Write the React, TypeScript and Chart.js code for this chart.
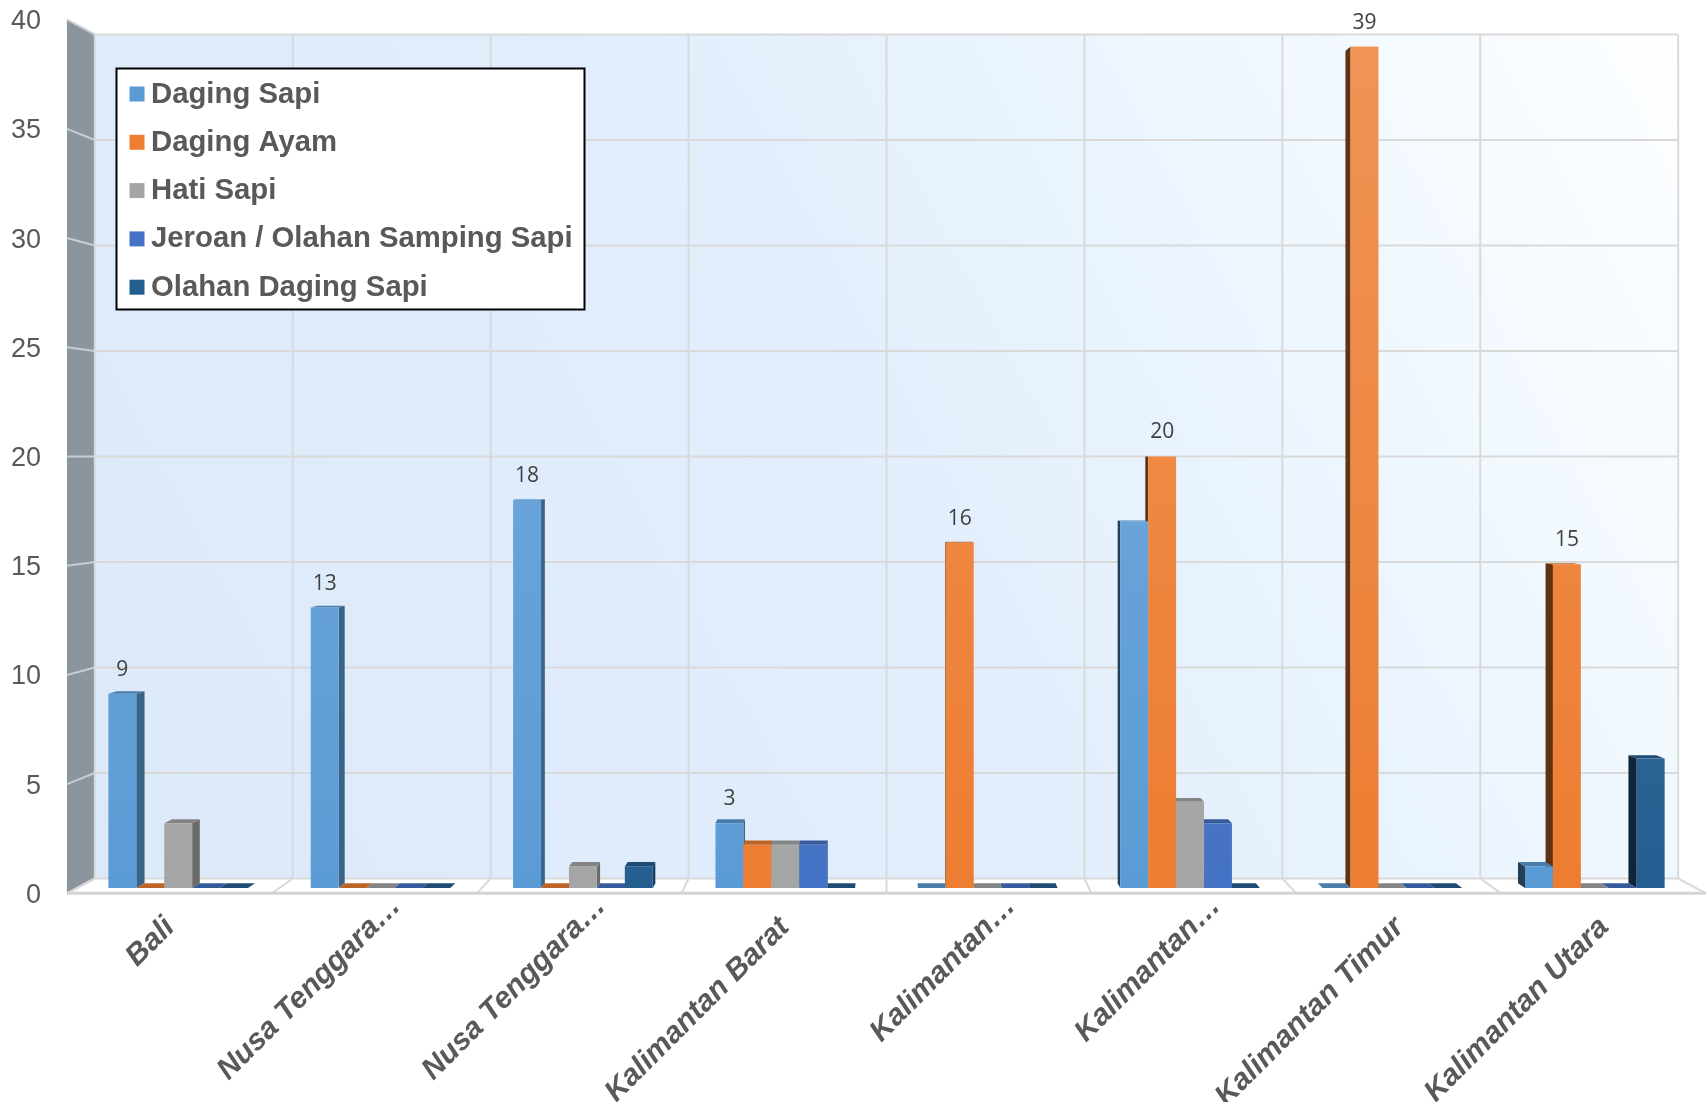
import React, { useEffect, useRef } from 'react';
import { Chart, registerables } from 'chart.js';

Chart.register(...registerables);

const categories = [
  'Bali',
  'Nusa Tenggara…',
  'Nusa Tenggara…',
  'Kalimantan Barat',
  'Kalimantan…',
  'Kalimantan…',
  'Kalimantan Timur',
  'Kalimantan Utara',
];
const dagingSapi = [9, 13, 18, 3, 0, 17, 0, 1];
const dagingAyam = [0, 0, 0, 2, 16, 20, 39, 15];
const hatiSapi = [3, 0, 1, 2, 0, 4, 0, 0];
const jeroanSapi = [0, 0, 0, 2, 0, 3, 0, 0];
const olahanSapi = [0, 0, 1, 0, 0, 0, 0, 6];
const seriesNames = ['Daging Sapi', 'Daging Ayam', 'Hati Sapi', 'Jeroan / Olahan Samping Sapi', 'Olahan Daging Sapi'];
const seriesColors = ['#5B9BD5', '#ED7D31', '#A5A5A5', '#4472C4', '#255E91'];
const yMin = 0;
const yMax = 40;
const yStep = 5;

function shade(hex: string, f: number): string {
  const n = parseInt(hex.slice(1), 16);
  const r = Math.max(0, Math.min(255, Math.round(((n >> 16) & 255) * f)));
  const g = Math.max(0, Math.min(255, Math.round(((n >> 8) & 255) * f)));
  const b = Math.max(0, Math.min(255, Math.round((n & 255) * f)));
  return `rgb(${r},${g},${b})`;
}
function lighten(hex: string, t: number): string {
  const n = parseInt(hex.slice(1), 16);
  const c = [(n >> 16) & 255, (n >> 8) & 255, n & 255].map((v) => Math.round(v + (255 - v) * t));
  return `rgb(${c[0]},${c[1]},${c[2]})`;
}

const KW = 0.978; // back wall depth factor
const KF = 1.0124; // floor front depth factor
const KB = 0.989; // bar back face depth factor

function projector(chart: any) {
  const ca = chart.chartArea;
  const cx = (ca.left + ca.right) / 2;
  const cy = (ca.top + ca.bottom) / 2;
  return { cx, cy, P: (x: number, y: number, k: number) => [cx + (x - cx) * k, cy + (y - cy) * k] };
}

const threeD = {
  id: 'threeD',
  beforeDatasetsDraw(chart: any) {
    const ctx: CanvasRenderingContext2D = chart.ctx;
    const ca = chart.chartArea;
    const xs = chart.scales.x;
    const ys = chart.scales.y;
    const { cx, cy, P } = projector(chart);
    const poly = (pts: number[][], fill?: any) => {
      ctx.beginPath();
      ctx.moveTo(pts[0][0], pts[0][1]);
      for (let i = 1; i < pts.length; i++) ctx.lineTo(pts[i][0], pts[i][1]);
      ctx.closePath();
      ctx.fillStyle = fill;
      ctx.fill();
    };
    const line = (a: number[], b: number[], color: string, lw: number) => {
      ctx.beginPath();
      ctx.moveTo(a[0], a[1]);
      ctx.lineTo(b[0], b[1]);
      ctx.strokeStyle = color;
      ctx.lineWidth = lw;
      ctx.stroke();
    };
    const L = ca.left, R = ca.right;
    const T = ys.getPixelForValue(yMax);
    const B = ys.getPixelForValue(yMin);
    ctx.save();
    // back wall
    const bl = P(L, B, KW), br = P(R, B, KW), tl = P(L, T, KW), tr = P(R, T, KW);
    const grad = ctx.createLinearGradient(bl[0], bl[1], tr[0], tr[1]);
    grad.addColorStop(0, '#dce9f9');
    grad.addColorStop(0.5, '#e2eefc');
    grad.addColorStop(0.75, '#eef7fe');
    grad.addColorStop(1, '#fdfeff');
    poly([tl, tr, br, bl], grad);
    // left wall
    const ftl = P(L, T, KF), fbl = P(L, B, KF);
    poly([ftl, tl, bl, fbl], '#8c959e');
    // floor
    const fbr = P(R, B, KF);
    poly([bl, br, fbr, fbl], '#ffffff');
    // grid: horizontal lines
    for (let v = yMin; v <= yMax; v += yStep) {
      const py = ys.getPixelForValue(v);
      line(P(L, py, KW), P(R, py, KW), '#d9d9d9', 2);
      line(P(L, py, KF), P(L, py, KW), '#c8cdd2', 2);
    }
    // vertical category boundaries
    const half = (xs.getPixelForValue(1) - xs.getPixelForValue(0)) / 2;
    for (let i = 0; i <= categories.length; i++) {
      const px = xs.getPixelForValue(0) - half + i * half * 2;
      line(P(px, T, KW), P(px, B, KW), '#d9d9d9', 2);
      line(P(px, B, KW), P(px, B, KF), '#d9d9d9', 2);
    }
    line(fbl, fbr, '#d4d4d4', 3);

    // bars (painter's order: outermost first)
    const bars: any[] = [];
    chart.data.datasets.forEach((ds: any, di: number) => {
      const meta = chart.getDatasetMeta(di);
      meta.data.forEach((el: any) => {
        bars.push({ el, color: seriesColors[di] });
      });
    });
    bars.sort((a, b) => Math.abs(b.el.x - cx) - Math.abs(a.el.x - cx));
    for (const bar of bars) {
      const { x, y, base, width } = bar.el;
      const l = x - width / 2, r = x + width / 2;
      const top = Math.min(y, base), bot = Math.max(y, base);
      const c = bar.color;
      if (r < cx) {
        poly([[r, top], [r, bot], P(r, bot, KB), P(r, top, KB)], shade(c, 0.64));
      } else if (l > cx) {
        poly([[l, top], [l, bot], P(l, bot, KB), P(l, top, KB)], shade(c, 0.4));
      }
      if (top > cy) {
        poly([[l, top], [r, top], P(r, top, KB), P(l, top, KB)], shade(c, 0.8));
      }
      if (bot - top > 0.5) {
        const g = ctx.createLinearGradient(0, T, 0, B);
        g.addColorStop(0, lighten(c, 0.18));
        g.addColorStop(1, c);
        ctx.fillStyle = g;
        ctx.fillRect(l, top, r - l, bot - top);
      }
    }
    // data labels: largest value per category
    ctx.font = '21px "Open Sans"';
    ctx.fillStyle = '#404040';
    ctx.textAlign = 'center';
    ctx.textBaseline = 'middle';
    for (let i = 0; i < categories.length; i++) {
      let best = -1, bestVal = -Infinity;
      chart.data.datasets.forEach((ds: any, di: number) => {
        if (ds.data[i] > bestVal) {
          bestVal = ds.data[i];
          best = di;
        }
      });
      const el = chart.getDatasetMeta(best).data[i];
      ctx.fillText(String(bestVal), el.x, el.y - 24);
    }
    ctx.restore();
    return false;
  },
  afterDraw(chart: any) {
    const ctx: CanvasRenderingContext2D = chart.ctx;
    const xs = chart.scales.x;
    const ys = chart.scales.y;
    const ca = chart.chartArea;
    const { P } = projector(chart);
    ctx.save();
    // y tick labels at the front edge of the left wall
    ctx.font = '27px "Liberation Sans"';
    ctx.fillStyle = '#595959';
    ctx.textAlign = 'right';
    ctx.textBaseline = 'middle';
    for (let v = yMin; v <= yMax; v += yStep) {
      const p = P(ca.left, ys.getPixelForValue(v), KF);
      ctx.fillText(String(v), 41, p[1] + 2);
    }
    // x tick labels at the front edge of the floor, rotated 45 degrees
    ctx.font = 'italic bold 30px "Liberation Sans"';
    ctx.textAlign = 'right';
    ctx.textBaseline = 'middle';
    categories.forEach((lab, i) => {
      const p = P(xs.getPixelForValue(i), ys.getPixelForValue(yMin), KF);
      const truncated = lab.endsWith('…');
      ctx.save();
      ctx.translate(p[0] - 12, ca.bottom + 22);
      ctx.rotate(-Math.PI / 4);
      ctx.fillText(lab, truncated ? 30 : 0, 18);
      ctx.restore();
    });
    // legend
    const bx = 116.5, by = 68.5, bw = 468, bh = 241;
    ctx.fillStyle = '#ffffff';
    ctx.fillRect(bx, by, bw, bh);
    ctx.strokeStyle = '#000000';
    ctx.lineWidth = 2;
    ctx.strokeRect(bx, by, bw, bh);
    ctx.font = 'bold 29.3px "Liberation Sans"';
    ctx.textBaseline = 'middle';
    ctx.textAlign = 'left';
    chart.data.datasets.forEach((ds: any, di: number) => {
      const yy = 93.5 + di * 48.3;
      ctx.fillStyle = ds.backgroundColor;
      ctx.fillRect(129.5, yy - 7, 15, 15);
      ctx.fillStyle = '#595959';
      ctx.fillText(ds.label, 151, yy + 1);
    });
    ctx.restore();
  },
};

export default function App() {
  const ref = useRef<HTMLCanvasElement>(null);
  useEffect(() => {
    document.body.style.margin = '0';
    const seriesData = [dagingSapi, dagingAyam, hatiSapi, jeroanSapi, olahanSapi];
    const chart = new Chart(ref.current as HTMLCanvasElement, {
      type: 'bar',
      data: {
        labels: categories,
        datasets: seriesData.map((d, i) => ({
          label: seriesNames[i],
          data: d,
          backgroundColor: seriesColors[i],
          barPercentage: 1,
          categoryPercentage: 0.69,
        })),
      },
      options: {
        responsive: false,
        animation: false,
        devicePixelRatio: 1,
        layout: { padding: { top: 25, right: 11, left: 0, bottom: 0 } },
        plugins: {
          legend: { display: false },
          tooltip: { enabled: false },
        },
        scales: {
          x: {
            grid: { display: false, drawTicks: false },
            border: { display: false },
            ticks: { display: false, autoSkip: false },
            afterFit: (s: any) => {
              s.height = 214;
              s.paddingLeft = 0;
              s.paddingRight = 0;
              s.paddingTop = 0;
              s.paddingBottom = 0;
            },
          },
          y: {
            min: yMin,
            max: yMax,
            grid: { display: false, drawTicks: false },
            border: { display: false },
            ticks: { display: false, stepSize: yStep },
            afterFit: (s: any) => {
              s.width = 77;
              s.paddingTop = 0;
              s.paddingBottom = 0;
              s.paddingLeft = 0;
              s.paddingRight = 0;
            },
          },
        },
      },
      plugins: [threeD],
    } as any);
    return () => chart.destroy();
  }, []);
  return (
    <div style={{ position: 'absolute', left: 0, top: 0, width: 1707, height: 1102, background: '#ffffff' }}>
      <canvas ref={ref} width={1707} height={1102} style={{ width: 1707, height: 1102 }} />
    </div>
  );
}
